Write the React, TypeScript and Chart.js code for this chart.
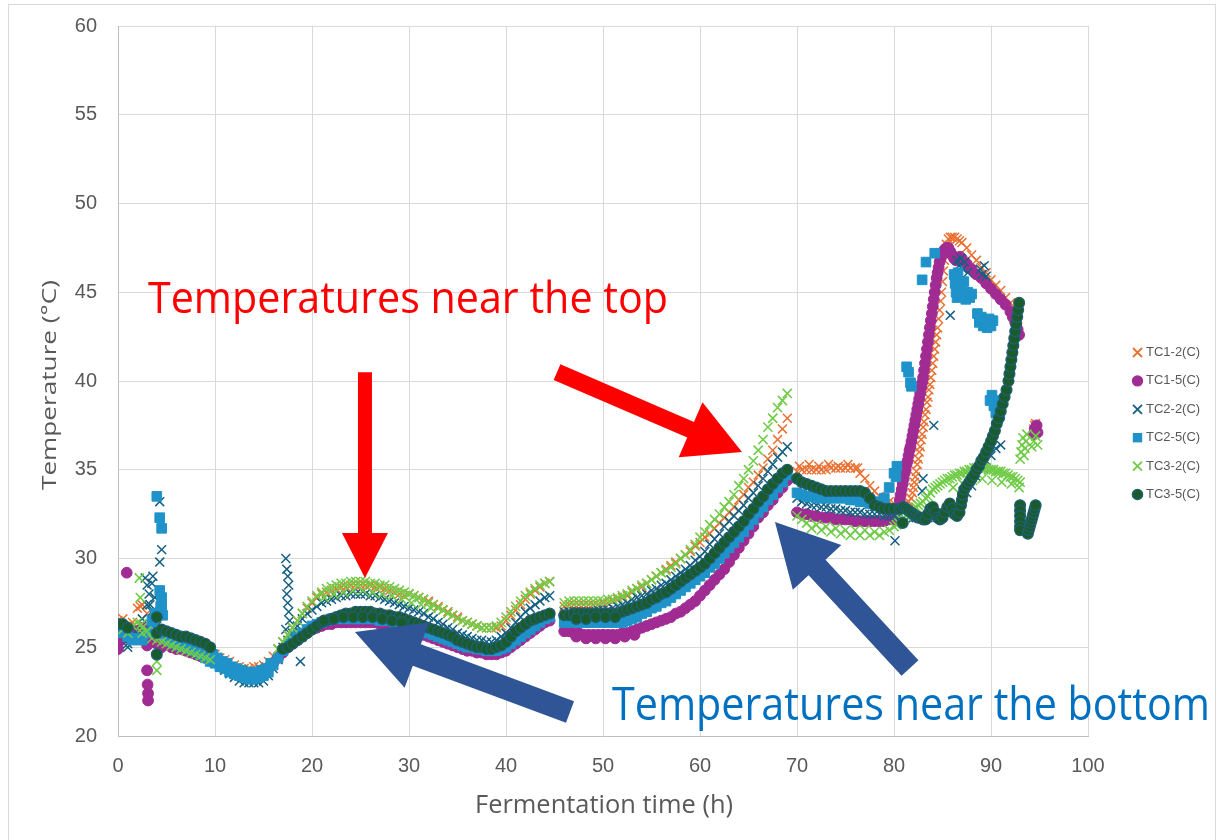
import React, { useEffect, useRef } from 'react';
import { Chart, registerables } from 'chart.js';

Chart.register(...registerables);

// ---------------- DATA ----------------
const seriesNames = ['TC1-2(C)', 'TC1-5(C)', 'TC2-2(C)', 'TC2-5(C)', 'TC3-2(C)', 'TC3-5(C)'];

const xTicks = [0, 10, 20, 30, 40, 50, 60, 70, 80, 90, 100];
const yTicks = [20, 25, 30, 35, 40, 45, 50, 55, 60];

const hoursA = [
  0, 0.5, 1, 1.5, 2, 2.5, 3, 3.5, 4, 4.5,
  5, 5.5, 6, 6.5, 7, 7.5, 8, 8.5, 9, 9.5,
  10, 10.5, 11, 11.5, 12, 12.5, 13, 13.5, 14, 14.5,
  15, 15.5, 16, 16.5, 17, 17.5, 18, 18.5, 19, 19.5,
  20, 20.5, 21, 21.5, 22, 22.5, 23, 23.5, 24, 24.5,
  25, 25.5, 26, 26.5, 27, 27.5, 28, 28.5, 29, 29.5,
  30, 30.5, 31, 31.5, 32, 32.5, 33, 33.5, 34, 34.5,
  35, 35.5, 36, 36.5, 37, 37.5, 38, 38.5, 39, 39.5,
  40, 40.5, 41, 41.5, 42, 42.5, 43, 43.5, 44, 44.5,
];
const hoursB = [
  46, 46.5, 47, 47.5, 48, 48.5, 49, 49.5, 50, 50.5,
  51, 51.5, 52, 52.5, 53, 53.5, 54, 54.5, 55, 55.5,
  56, 56.5, 57, 57.5, 58, 58.5, 59, 59.5, 60, 60.5,
  61, 61.5, 62, 62.5, 63, 63.5, 64, 64.5, 65, 65.5,
  66, 66.5, 67, 67.5, 68, 68.5, 69,
];
const hoursC = [70, 70.5, 71, 71.5, 72, 72.5, 73, 73.5, 74, 74.5, 75, 75.5, 76, 76.5, 77, 77.5, 78, 78.5, 79, 79.5, 80];

// TC1-2
const tc12A = [
  26.5, 26.6, 26.2, 26.4, 27.2, 27.4, 26.9, 26.5, 25.9, 25.7,
  25.6, 25.5, 25.5, 25.4, 25.3, 25.2, 25.1, 25.0, 24.9, 24.7,
  24.6, 24.4, 24.3, 24.2, 24.0, 23.9, 23.8, 23.8, 23.9, 23.9,
  24.0, 24.2, 24.5, 24.9, 25.3, 25.7, 26.1, 26.5, 26.9, 27.2,
  27.5, 27.8, 28.0, 28.1, 28.2, 28.3, 28.4, 28.4, 28.5, 28.5,
  28.5, 28.5, 28.5, 28.4, 28.4, 28.3, 28.2, 28.1, 28.0, 27.9,
  28.0, 27.9, 27.8, 27.7, 27.6, 27.4, 27.3, 27.1, 27.0, 26.8,
  26.7, 26.5, 26.4, 26.3, 26.2, 26.1, 26.1, 26.1, 26.1, 26.2,
  26.5, 26.8, 27.1, 27.4, 27.7, 28.0, 28.2, 28.4, 28.6, 28.7,
];
const tc12B = [
  27.3, 27.4, 27.4, 27.4, 27.4, 27.4, 27.4, 27.4, 27.5, 27.5,
  27.6, 27.7, 27.8, 27.9, 28.1, 28.3, 28.4, 28.6, 28.8, 29.0,
  29.2, 29.4, 29.6, 29.8, 30.0, 30.2, 30.4, 30.7, 30.9, 31.2,
  31.4, 31.7, 32.0, 32.3, 32.6, 32.9, 33.3, 33.6, 34.0, 34.3,
  34.7, 35.1, 35.6, 36.1, 36.7, 37.3, 37.9,
];
const tc12C = [34.9, 35.0, 35.0, 35.0, 35.0, 35.0, 35.0, 35.1, 35.1, 35.1, 35.1, 35.1, 35.1, 34.8, 34.5, 34.1, 33.8, 33.5, 33.3, 33.2, 33.1];
const tc12Late = [
  [80.5, 33.0], [81, 33.0], [81.5, 33.2], [81.75, 33.4], [81.9, 33.7], [82, 34.0], [82.1, 34.3], [82.2, 34.6], [82.3, 34.9],
  [82.4, 35.3], [82.5, 35.6], [82.6, 36.0], [82.7, 36.3], [82.8, 36.7], [82.9, 37.0], [83, 37.4], [83.1, 37.7], [83.2, 38.1],
  [83.3, 38.4], [83.4, 38.8], [83.5, 39.1], [83.6, 39.5], [83.7, 39.8], [83.8, 40.2], [83.9, 40.6], [84, 41.0], [84.1, 41.4],
  [84.2, 41.8], [84.3, 42.2], [84.4, 42.6], [84.5, 43.0], [84.6, 43.5], [84.7, 44.0], [84.8, 44.5], [84.9, 45.0], [85, 45.6],
  [85.1, 46.2], [85.2, 46.8], [85.3, 47.3], [85.4, 47.7], [85.6, 48.0], [85.8, 48.1], [86, 48.1], [86.25, 48.1], [86.5, 48.0],
  [86.75, 47.9], [87, 47.8], [87.5, 47.5], [88, 47.1], [88.5, 46.8], [89, 46.4], [89.5, 46.1], [90, 45.7], [90.5, 45.4],
  [91, 45.1], [91.5, 44.7], [92, 44.4], [92.5, 44.0], [92.75, 43.5],
  [94.4, 37.3], [94.5, 37.5], [94.6, 37.6], [94.7, 37.4],
  [3.1, 22.5], [3.05, 22.1], [2.3, 27.3],
  [70.25, 35.2], [71.25, 35.3], [72.25, 35.2], [73.25, 35.3], [74.25, 35.2], [75.25, 35.3], [76.25, 35.1],
];

// TC1-5
const tc15A = [
  24.9, 25.5, 25.8, 25.6, 25.9, 26.1, 25.1, 25.3, 25.2, 25.0,
  25.2, 25.0, 24.9, 24.9, 24.8, 24.7, 24.6, 24.5, 24.4, 24.3,
  24.2, 24.0, 23.9, 23.7, 23.6, 23.5, 23.4, 23.4, 23.4, 23.5,
  23.6, 23.8, 24.1, 24.4, 24.7, 25.0, 25.2, 25.4, 25.6, 25.8,
  26.0, 26.1, 26.2, 26.3, 26.3, 26.4, 26.4, 26.4, 26.4, 26.4,
  26.4, 26.4, 26.4, 26.4, 26.3, 26.3, 26.3, 26.2, 26.2, 26.1,
  26.0, 25.9, 25.8, 25.7, 25.6, 25.5, 25.4, 25.3, 25.2, 25.1,
  25.0, 24.9, 24.8, 24.8, 24.7, 24.7, 24.6, 24.6, 24.6, 24.7,
  24.8, 25.0, 25.2, 25.4, 25.6, 25.8, 26.0, 26.2, 26.4, 26.5,
];
const tc15B = [
  25.9, 25.9, 25.8, 25.8, 25.7, 25.7, 25.7, 25.7, 25.7, 25.7,
  25.7, 25.7, 25.8, 25.8, 25.9, 26.0, 26.1, 26.2, 26.3, 26.4,
  26.5, 26.6, 26.7, 26.9, 27.0, 27.2, 27.4, 27.6, 27.9, 28.2,
  28.5, 28.8, 29.1, 29.4, 29.8, 30.2, 30.6, 31.0, 31.4, 31.8,
  32.3, 32.6, 33.0, 33.3, 33.7, 34.0, 34.4,
];
const tc15C = [32.6, 32.5, 32.5, 32.4, 32.4, 32.3, 32.3, 32.3, 32.2, 32.2, 32.2, 32.2, 32.1, 32.1, 32.1, 32.1, 32.1, 32.1, 32.1, 32.2, 32.2];
const tc15Late = [
  [80.5, 32.9], [80.6, 33.3], [80.7, 33.6], [80.8, 33.9], [80.9, 34.2], [81, 34.5], [81.1, 34.8], [81.2, 35.0], [81.3, 35.3],
  [81.4, 35.5], [81.5, 35.8], [81.6, 36.1], [81.7, 36.3], [81.8, 36.6], [81.9, 36.9], [82, 37.2], [82.1, 37.5], [82.2, 37.8],
  [82.3, 38.1], [82.4, 38.4], [82.5, 38.7], [82.6, 39.0], [82.7, 39.3], [82.8, 39.6], [82.9, 39.9], [83, 40.2], [83.1, 40.6],
  [83.2, 41.0], [83.3, 41.4], [83.4, 41.8], [83.5, 42.2], [83.6, 42.6], [83.7, 43.0], [83.8, 43.4], [83.9, 43.8], [84, 44.2],
  [84.1, 44.6], [84.2, 45.0], [84.3, 45.4], [84.4, 45.8], [84.5, 46.1], [84.6, 46.4], [84.7, 46.7], [84.8, 46.9], [84.9, 47.1],
  [85, 47.2], [85.2, 47.4], [85.4, 47.5], [85.6, 47.5], [85.8, 47.3], [86, 47.1], [86.2, 46.9], [86.4, 46.8], [86.6, 46.9],
  [86.8, 47.0], [87, 46.9], [87.5, 46.6], [88, 46.3], [88.5, 46.0], [89, 45.8], [89.5, 45.5], [90, 45.2], [90.5, 44.9],
  [91, 44.6], [91.5, 44.3], [92, 43.9], [92.25, 43.6], [92.5, 43.3], [92.75, 42.9], [92.9, 42.6],
  [94.4, 37.0], [94.5, 37.3], [94.6, 37.2], [94.7, 37.5], [94.8, 37.1],
  [0.9, 29.2], [0.1, 25.3], [3.0, 23.7], [3.05, 22.9], [3.1, 22.0], [3.1, 22.4],
  [47.25, 25.6], [48.25, 25.5], [49.25, 25.5], [50.25, 25.5], [51.25, 25.5], [52.25, 25.6], [53.25, 25.7],
];

// TC2-2
const tc22A = [
  26.3, 25.8, 25.2, 25.6, 26.0, 26.6, 27.4, 27.0, 26.2, 25.6,
  25.5, 25.4, 25.3, 25.2, 25.1, 25.0, 24.9, 24.8, 24.6, 24.3,
  24.1, 23.9, 23.7, 23.5, 23.3, 23.1, 23.0, 23.0, 23.0, 23.0,
  23.1, 23.4, 23.8, 24.3, 25.0, 25.4, 25.8, 26.2, 26.6, 26.9,
  27.1, 27.3, 27.5, 27.6, 27.7, 27.8, 27.9, 27.9, 28.0, 28.0,
  28.0, 28.0, 27.9, 27.9, 27.8, 27.7, 27.6, 27.5, 27.4, 27.3,
  27.2, 27.1, 27.0, 26.9, 26.7, 26.6, 26.4, 26.3, 26.1, 26.0,
  25.8, 25.7, 25.6, 25.5, 25.4, 25.4, 25.3, 25.3, 25.4, 25.6,
  25.8, 26.1, 26.4, 26.7, 27.0, 27.2, 27.4, 27.6, 27.8, 27.9,
];
const tc22B = [
  27.0, 27.0, 27.0, 27.0, 27.0, 27.0, 27.0, 27.1, 27.1, 27.1,
  27.2, 27.3, 27.4, 27.5, 27.7, 27.8, 27.9, 28.0, 28.2, 28.3,
  28.5, 28.6, 28.8, 29.0, 29.2, 29.4, 29.6, 29.9, 30.1, 30.4,
  30.8, 31.1, 31.4, 31.8, 32.1, 32.4, 32.7, 33.0, 33.4, 33.7,
  34.1, 34.5, 34.9, 35.3, 35.7, 36.0, 36.3,
];
const tc22C = [33.4, 33.2, 33.1, 33.0, 33.0, 32.9, 32.9, 32.8, 32.8, 32.7, 32.7, 32.6, 32.6, 32.6, 32.5, 32.5, 32.5, 32.5, 32.4, 32.4, 32.4];
const tc22Late = [
  [80.5, 32.4], [81, 32.3], [81.5, 32.3], [82, 32.3], [82.5, 32.3], [83, 32.3], [83.5, 32.3], [84, 32.3], [84.5, 32.4],
  [85, 32.5], [85.5, 32.6], [86, 32.8], [86.5, 33.0], [87, 33.3], [87.5, 33.7], [88, 34.1], [88.5, 34.6], [89, 35.1],
  [89.5, 35.5], [90, 35.8], [90.5, 36.2], [91, 36.4],
  [80.1, 31.0], [82.9, 33.8], [83.0, 34.5], [84.1, 37.5], [85.8, 43.7], [86.5, 46.8], [86.7, 46.5], [86.9, 46.9],
  [87.1, 46.3], [87.3, 46.7], [87.6, 46.1], [88.9, 46.3], [89.1, 46.0], [89.3, 46.5], [89.5, 45.9],
  [2.8, 28.9], [3.0, 28.5], [3.2, 28.0], [3.3, 27.4], [3.4, 26.3], [3.6, 29.0], [3.5, 28.6], [3.8, 27.8], [4.3, 33.2],
  [4.5, 30.5], [4.3, 29.8], [1.0, 25.0], [17.3, 30.0], [17.4, 29.4], [17.5, 29.0], [17.6, 28.5], [17.4, 28.0],
  [17.5, 27.5], [17.6, 27.0], [17.7, 26.5], [17.3, 26.0], [18.8, 24.2],
];

// TC2-5
const tc25A = [
  26.3, 25.8, 25.6, 25.4, 25.5, 25.4, 25.8, 26.5, 26.8, 27.3,
  25.5, 25.3, 25.2, 25.1, 25.0, 24.9, 24.8, 24.6, 24.4, 24.2,
  24.1, 23.9, 23.8, 23.6, 23.5, 23.4, 23.3, 23.2, 23.2, 23.3,
  23.4, 23.6, 24.0, 24.4, 24.8, 25.1, 25.4, 25.6, 25.8, 26.0,
  26.2, 26.3, 26.4, 26.5, 26.6, 26.6, 26.6, 26.6, 26.6, 26.6,
  26.6, 26.6, 26.6, 26.6, 26.5, 26.5, 26.5, 26.4, 26.4, 26.3,
  26.2, 26.1, 26.0, 25.9, 25.8, 25.7, 25.6, 25.5, 25.4, 25.3,
  25.2, 25.1, 25.0, 25.0, 24.9, 24.9, 24.8, 24.8, 24.8, 24.9,
  25.0, 25.2, 25.4, 25.6, 25.8, 26.0, 26.2, 26.4, 26.6, 26.7,
];
const tc25B = [
  26.4, 26.4, 26.4, 26.4, 26.4, 26.4, 26.4, 26.4, 26.4, 26.4,
  26.4, 26.4, 26.4, 26.5, 26.6, 26.7, 26.9, 27.0, 27.2, 27.3,
  27.5, 27.6, 27.8, 28.0, 28.2, 28.4, 28.6, 28.8, 29.0, 29.2,
  29.5, 29.7, 30.0, 30.3, 30.6, 30.9, 31.2, 31.5, 31.9, 32.2,
  32.6, 32.9, 33.3, 33.6, 34.0, 34.3, 34.7,
];
const tc25C = [33.7, 33.6, 33.5, 33.5, 33.4, 33.4, 33.4, 33.4, 33.4, 33.4, 33.4, 33.3, 33.3, 33.2, 33.2, 33.1, 33.1, 33.2, 33.4, 34.0, 34.8];
const tc25Late = [
  [80.2, 34.6], [80.3, 35.2], [81.3, 40.8], [81.5, 40.5], [81.7, 39.9], [81.8, 39.7], [82.9, 45.7], [83.3, 46.7], [84.2, 47.2],
  [86.2, 46.0], [86.3, 45.5], [86.4, 45.0], [86.5, 44.7], [86.6, 46.1], [86.8, 45.3], [87.0, 44.8], [87.2, 45.6], [87.4, 44.6],
  [87.6, 45.0], [87.8, 44.7], [88.0, 44.9], [88.6, 43.8], [88.8, 43.3], [89.0, 43.6], [89.2, 43.1], [89.4, 43.4], [89.6, 43.0],
  [89.8, 43.5], [90.0, 43.1], [90.2, 43.4], [89.9, 38.9], [90.1, 39.2], [90.3, 38.6], [90.5, 38.2], [90.7, 38.9], [90.9, 38.1],
  [4.0, 33.5], [4.3, 32.3], [4.5, 31.7], [4.3, 28.2], [4.5, 27.8], [4.4, 27.3], [4.6, 26.8], [3.8, 26.9], [3.6, 26.4],
  [9.75, 24.6], [10.25, 24.4], [10.75, 24.2], [11.25, 24.1], [11.75, 23.9], [12.25, 23.8], [12.75, 23.7], [13.25, 23.6],
  [13.75, 23.6], [14.25, 23.6], [14.75, 23.7], [15.25, 23.8], [15.75, 24.1],
];

// TC3-2
const tc32A = [
  26.2, 26.0, 25.8, 26.2, 26.4, 26.1, 25.9, 25.5, 25.4, 25.3,
  25.2, 25.1, 25.0, 24.9, 24.8, 24.7, 24.6, 24.5, 24.4, 24.3,
  null, null, null, null, null, null, null, null, null, null,
  null, null, null, 24.9, 25.3, 25.7, 26.1, 26.5, 26.9, 27.3,
  27.6, 27.9, 28.1, 28.3, 28.4, 28.5, 28.6, 28.6, 28.7, 28.7,
  28.7, 28.7, 28.6, 28.6, 28.5, 28.5, 28.4, 28.3, 28.2, 28.1,
  28.0, 27.9, 27.8, 27.7, 27.5, 27.4, 27.2, 27.1, 26.9, 26.8,
  26.6, 26.5, 26.4, 26.3, 26.2, 26.1, 26.1, 26.1, 26.2, 26.4,
  26.7, 27.0, 27.3, 27.6, 27.9, 28.1, 28.3, 28.5, 28.6, 28.7,
];
const tc32B = [
  27.5, 27.6, 27.6, 27.6, 27.6, 27.6, 27.6, 27.6, 27.6, 27.7,
  27.7, 27.8, 27.9, 28.0, 28.2, 28.3, 28.5, 28.6, 28.8, 29.0,
  29.2, 29.3, 29.5, 29.7, 30.0, 30.2, 30.5, 30.8, 31.2, 31.5,
  31.9, 32.2, 32.5, 32.9, 33.2, 33.6, 34.1, 34.5, 35.0, 35.5,
  36.1, 36.7, 37.4, 37.9, 38.5, 38.9, 39.3,
];
const tc32C = [32.4, 32.2, 32.0, 31.7, 31.9, 31.6, 31.8, 31.5, 31.7, 31.4, 31.6, 31.3, 31.6, 31.3, 31.6, 31.3, 31.5, 31.3, 31.5, 31.6, 31.8];
const tc32Late = [
  [80.25, 31.9], [80.5, 32.0], [80.75, 32.2], [81, 32.3], [81.25, 32.4], [81.5, 32.6], [81.75, 32.7], [82, 32.8],
  [82.25, 32.9], [82.5, 33.0], [82.75, 33.1], [83, 33.2], [83.25, 33.4], [83.5, 33.5], [83.75, 33.7], [84, 33.9],
  [84.25, 34.0], [84.5, 34.1], [84.75, 34.2], [85, 34.3], [85.25, 34.4], [85.5, 34.5], [85.75, 34.5], [86, 34.6],
  [86.25, 34.7], [86.5, 34.7], [86.75, 34.8], [87, 34.8], [87.25, 34.9], [87.5, 34.9], [87.75, 35.0], [88, 35.0],
  [88.25, 35.1], [88.5, 35.1], [88.75, 35.1], [89, 35.1], [89.25, 35.1], [89.5, 35.1], [89.75, 35.0], [90, 35.0],
  [90.25, 35.0], [90.5, 34.9], [90.75, 34.9], [91, 34.9], [91.25, 34.8], [91.5, 34.8], [91.75, 34.7], [92, 34.6],
  [92.25, 34.6], [92.5, 34.5], [92.75, 34.4], [93, 34.3],
  [86.1, 34.0], [87.1, 34.2], [88.1, 34.4], [89.1, 34.5], [90.1, 34.4], [91.1, 34.3], [92.1, 34.2], [92.9, 34.0],
  [93.0, 35.6], [93.1, 36.0], [93.2, 36.4], [93.3, 36.8], [93.4, 35.8], [93.5, 36.2], [93.6, 36.6], [93.7, 37.0],
  [94.2, 36.3], [94.4, 36.6], [94.6, 36.9], [94.8, 36.4],
  [2.2, 28.9], [2.3, 27.8], [2.4, 26.3], [2.5, 25.8], [4.0, 24.2], [4.0, 23.7],
  [21.25, 27.8], [22.25, 28.0], [23.25, 28.1], [24.25, 28.2], [25.25, 28.2], [26.25, 28.1], [27.25, 28.0], [28.25, 27.9],
  [29.25, 27.7], [30.25, 27.5], [31.25, 27.4], [32.25, 27.2],
];

// TC3-5
const tc35A = [
  26.3, 26.3, 26.1, null, null, null, null, null, 25.8, 26.0,
  25.9, 25.8, 25.7, 25.6, 25.6, 25.5, 25.4, 25.3, 25.2, 25.0,
  null, null, null, null, null, null, null, null, null, null,
  null, null, null, null, 24.9, 25.0, 25.2, 25.4, 25.6, 25.8,
  26.0, 26.2, 26.4, 26.5, 26.6, 26.7, 26.8, 26.9, 26.9, 27.0,
  27.0, 27.0, 27.0, 26.9, 26.9, 26.8, 26.8, 26.7, 26.7, 26.6,
  26.5, 26.4, 26.3, 26.2, 26.1, 26.0, 25.9, 25.8, 25.7, 25.6,
  25.4, 25.3, 25.2, 25.1, 25.0, 25.0, 24.9, 24.9, 25.0, 25.1,
  25.3, 25.6, 25.9, 26.1, 26.3, 26.5, 26.6, 26.7, 26.8, 26.9,
];
const tc35B = [
  26.8, 26.8, 26.9, 26.9, 26.9, 26.9, 26.9, 26.9, 26.9, 26.9,
  26.9, 26.9, 27.0, 27.1, 27.2, 27.3, 27.4, 27.5, 27.7, 27.8,
  28.0, 28.1, 28.3, 28.5, 28.7, 28.9, 29.1, 29.3, 29.5, 29.7,
  30.0, 30.3, 30.6, 30.9, 31.2, 31.5, 31.8, 32.1, 32.5, 32.8,
  33.2, 33.5, 33.9, 34.2, 34.5, 34.8, 35.0,
];
const tc35C = [34.5, 34.3, 34.2, 34.1, 34.0, 33.9, 33.8, 33.8, 33.8, 33.8, 33.8, 33.8, 33.8, 33.8, 33.7, 33.4, 33.0, 32.9, 32.8, 32.8, 32.8];
const tc35Late = [
  [80.5, 32.8], [80.75, 32.8], [80.9, 32.0], [81, 32.9], [81.25, 32.8], [81.5, 32.7], [81.75, 32.6], [82, 32.5],
  [82.25, 32.4], [82.5, 32.3], [82.75, 32.3], [83, 32.2], [83.25, 32.2], [83.5, 32.5], [83.75, 32.8], [84, 32.9],
  [84.25, 32.6], [84.5, 32.3], [84.75, 32.2], [85, 32.3], [85.25, 32.6], [85.5, 32.9], [85.75, 33.1], [86, 32.8],
  [86.25, 32.5], [86.5, 32.4], [86.75, 32.6], [86.9, 33.0], [87.0, 33.3], [87.1, 33.6], [87.25, 33.9], [87.5, 34.1],
  [87.75, 34.3], [88, 34.5], [88.25, 34.7], [88.5, 35.0], [88.75, 35.2], [89, 35.5], [89.25, 35.7], [89.5, 36.0],
  [89.75, 36.3], [90, 36.6], [90.2, 36.9], [90.4, 37.2], [90.6, 37.6], [90.8, 37.9], [91, 38.3], [91.2, 38.7],
  [91.4, 39.1], [91.6, 39.5], [91.8, 40.0], [91.9, 40.4], [92, 40.8], [92.1, 41.2], [92.2, 41.6], [92.3, 42.0],
  [92.4, 42.4], [92.5, 42.8], [92.6, 43.2], [92.7, 43.6], [92.8, 44.0], [92.9, 44.4],
  [93.0, 33.0], [93.0, 32.7], [93.0, 32.4], [93.0, 32.1], [93.0, 31.8], [93.0, 31.6],
  [93.8, 31.4], [93.9, 31.6], [94.0, 31.8], [94.1, 32.0], [94.2, 32.2], [94.3, 32.4], [94.4, 32.6], [94.5, 32.8], [94.6, 33.0],
  [4.0, 26.7], [4.0, 24.6],
  [21.25, 26.5], [22.25, 26.6], [23.25, 26.7], [24.25, 26.7], [25.25, 26.7], [26.25, 26.7], [27.25, 26.6], [28.25, 26.5],
  [29.25, 26.4], [47.25, 26.6], [48.25, 26.6], [49.25, 26.7], [50.25, 26.7], [51.25, 26.7],
];

// annotations (data coordinates)
const noteTexts = ['Temperatures near the top', 'Temperatures near the bottom'];
const noteAnchors = [[3.09, 43.83], [50.93, 20.9]];
const arrowTails = [[25.46, 40.5], [45.26, 40.5], [46.6, 21.35], [81.65, 23.83]];
const arrowTips = [[25.46, 28.9], [64.33, 36.0], [24.43, 25.86], [67.73, 32.06]];

// ---------------- STYLE ----------------
const COLORS = ['#E97132', '#A02B93', '#156082', '#1F93C9', '#70CC48', '#1A5B2B'];
const BORDERS = ['#E97132', '#A02B93', '#156082', '#1F93C9', '#70CC48', '#1F5F73'];
const STYLES = ['crossRot', 'circle', 'crossRot', 'rect', 'crossRot', 'circle'];
const RADII = [6.3, 5.4, 6.3, 6.8, 6.5, 5.4];
const BWIDTH = [1.5, 1, 1.5, 1, 1.6, 1.3];

const ARROW_STYLE = [
  { color: '#FF0000', shaft: 14, headW: 46, headL: 45 },
  { color: '#FF0000', shaft: 17, headW: 60, headL: 56 },
  { color: '#2F5597', shaft: 23, headW: 70, headL: 66 },
  { color: '#2F5597', shaft: 23, headW: 66, headL: 62 },
];
const NOTE_STYLE = [
  { color: '#FF0000', width: 520, cap: 32 },
  { color: '#0070C0', width: 598, cap: 33 },
];

const GREY = '#595959';
const FONT = "'Liberation Sans', Arial, sans-serif";
const TITLE_FONT = "'Open Sans', 'Noto Sans', sans-serif";

function zipPts(xs: number[], ys: (number | null)[]) {
  const out: { x: number; y: number }[] = [];
  xs.forEach((x, i) => {
    const y = ys[i];
    if (y !== null && y !== undefined) out.push({ x, y });
  });
  return out;
}
function tuplePts(t: number[][]) {
  return t.map(([x, y]) => ({ x, y }));
}

function drawArrow(ctx: CanvasRenderingContext2D, x1: number, y1: number, x2: number, y2: number, s: any) {
  const dx = x2 - x1, dy = y2 - y1;
  const len = Math.hypot(dx, dy);
  const ux = dx / len, uy = dy / len;
  const nx = -uy, ny = ux;
  const bx = x2 - ux * s.headL, by = y2 - uy * s.headL;
  const hs = s.shaft / 2, hh = s.headW / 2;
  ctx.save();
  ctx.fillStyle = s.color;
  ctx.beginPath();
  ctx.moveTo(x1 + nx * hs, y1 + ny * hs);
  ctx.lineTo(bx + nx * hs, by + ny * hs);
  ctx.lineTo(bx + nx * hh, by + ny * hh);
  ctx.lineTo(x2, y2);
  ctx.lineTo(bx - nx * hh, by - ny * hh);
  ctx.lineTo(bx - nx * hs, by - ny * hs);
  ctx.lineTo(x1 - nx * hs, y1 - ny * hs);
  ctx.closePath();
  ctx.fill();
  ctx.restore();
}

function fitText(
  ctx: CanvasRenderingContext2D, text: string, family: string, cap: number, width: number,
  x: number, y: number, align: 'left' | 'center', color: string, rot = 0,
) {
  ctx.save();
  ctx.font = `100px ${family}`;
  const capRatio = ctx.measureText('T').actualBoundingBoxAscent / 100 || 0.72;
  const size = cap / capRatio;
  ctx.font = `${size}px ${family}`;
  const w = ctx.measureText(text).width;
  ctx.translate(x, y);
  if (rot) ctx.rotate(rot);
  ctx.scale(width / w, 1);
  ctx.textAlign = align;
  ctx.textBaseline = 'alphabetic';
  ctx.fillStyle = color;
  ctx.fillText(text, 0, 0);
  ctx.restore();
}

function drawMarker(ctx: CanvasRenderingContext2D, i: number, cx: number, cy: number) {
  ctx.save();
  ctx.fillStyle = COLORS[i];
  ctx.strokeStyle = BORDERS[i];
  ctx.lineWidth = BWIDTH[i] + 0.3;
  const st = STYLES[i];
  if (st === 'crossRot') {
    const r = 4.5;
    ctx.beginPath();
    ctx.moveTo(cx - r, cy - r); ctx.lineTo(cx + r, cy + r);
    ctx.moveTo(cx + r, cy - r); ctx.lineTo(cx - r, cy + r);
    ctx.stroke();
  } else if (st === 'circle') {
    ctx.beginPath();
    ctx.arc(cx, cy, 5, 0, Math.PI * 2);
    ctx.fill();
    ctx.stroke();
  } else {
    ctx.fillRect(cx - 4.7, cy - 4.7, 9.4, 9.4);
  }
  ctx.restore();
}

const overlayPlugin = {
  id: 'overlay',
  afterDatasetsDraw(chart: any) {
    const { ctx, scales } = chart;
    const xs = scales.x, ys = scales.y;
    arrowTails.forEach((t, i) => {
      const tip = arrowTips[i];
      drawArrow(ctx, xs.getPixelForValue(t[0]), ys.getPixelForValue(t[1]),
        xs.getPixelForValue(tip[0]), ys.getPixelForValue(tip[1]), ARROW_STYLE[i]);
    });
    noteTexts.forEach((txt, i) => {
      const a = noteAnchors[i];
      const st = NOTE_STYLE[i];
      fitText(ctx, txt, TITLE_FONT, st.cap, st.width, xs.getPixelForValue(a[0]), ys.getPixelForValue(a[1]), 'left', st.color);
    });
  },
  afterDraw(chart: any) {
    const { ctx, chartArea } = chart;
    ctx.save();
    ctx.strokeStyle = '#D9D9D9';
    ctx.lineWidth = 1;
    ctx.strokeRect(8.5, 4.5, 1207, 840);
    ctx.restore();
    const cx = (chartArea.left + chartArea.right) / 2;
    fitText(ctx, 'Fermentation time (h)', TITLE_FONT, 18, 258, cx + 1, 813, 'center', GREY);
    fitText(ctx, 'Temperature (°C)', TITLE_FONT, 15, 210, 56, 385, 'center', GREY, -Math.PI / 2);
    seriesNames.forEach((name, i) => {
      const y = 352.5 + i * 28.4;
      drawMarker(ctx, i, 1137.5, y);
      ctx.save();
      ctx.font = `13px ${FONT}`;
      ctx.fillStyle = GREY;
      ctx.textAlign = 'left';
      ctx.textBaseline = 'middle';
      ctx.fillText(name, 1146, y);
      ctx.restore();
    });
  },
};

export default function App() {
  const ref = useRef<HTMLCanvasElement>(null);
  useEffect(() => {
    document.body.style.margin = '0';
    const all = [
      [tc12A, tc12B, tc12C, tc12Late],
      [tc15A, tc15B, tc15C, tc15Late],
      [tc22A, tc22B, tc22C, tc22Late],
      [tc25A, tc25B, tc25C, tc25Late],
      [tc32A, tc32B, tc32C, tc32Late],
      [tc35A, tc35B, tc35C, tc35Late],
    ] as any[];
    const datasets = all.map((s, i) => ({
      label: seriesNames[i],
      data: [
        ...zipPts(hoursA, s[0]),
        ...zipPts(hoursB, s[1]),
        ...zipPts(hoursC, s[2]),
        ...tuplePts(s[3]),
      ],
      pointStyle: STYLES[i] as any,
      pointRadius: RADII[i],
      pointBackgroundColor: COLORS[i],
      pointBorderColor: BORDERS[i],
      pointBorderWidth: BWIDTH[i],
      backgroundColor: COLORS[i],
      borderColor: BORDERS[i],
      showLine: false,
      order: 5 - i,
    }));
    const chart = new Chart(ref.current as HTMLCanvasElement, {
      type: 'scatter',
      data: { datasets },
      options: {
        animation: false,
        responsive: false,
        events: [],
        layout: { padding: { top: 26, right: 129, left: 0, bottom: 0 } },
        plugins: { legend: { display: false }, tooltip: { enabled: false } },
        scales: {
          x: {
            type: 'linear',
            min: xTicks[0],
            max: xTicks[xTicks.length - 1],
            afterBuildTicks: (s: any) => { s.ticks = xTicks.map((v) => ({ value: v })); },
            ticks: { font: { family: FONT, size: 20 }, color: GREY, padding: 18, maxRotation: 0 },
            grid: { color: '#D9D9D9', drawTicks: false, lineWidth: 1 },
            border: { color: '#BFBFBF' },
            afterFit: (s: any) => { s.height = 104; s.paddingLeft = 0; s.paddingRight = 0; },
          },
          y: {
            type: 'linear',
            min: yTicks[0],
            max: yTicks[yTicks.length - 1],
            afterBuildTicks: (s: any) => { s.ticks = yTicks.map((v) => ({ value: v })); },
            ticks: { font: { family: FONT, size: 20 }, color: GREY, padding: 21 },
            grid: { color: '#D9D9D9', drawTicks: false, lineWidth: 1 },
            border: { color: '#BFBFBF' },
            afterFit: (s: any) => { s.width = 118; s.paddingTop = 0; s.paddingBottom = 0; },
          },
        },
      },
      plugins: [overlayPlugin],
    });
    return () => chart.destroy();
  }, []);
  return (
    <div style={{ position: 'absolute', left: 0, top: 0, width: 1217, height: 840, background: '#fff' }}>
      <canvas ref={ref} width={1217} height={840} style={{ display: 'block' }} />
    </div>
  );
}
